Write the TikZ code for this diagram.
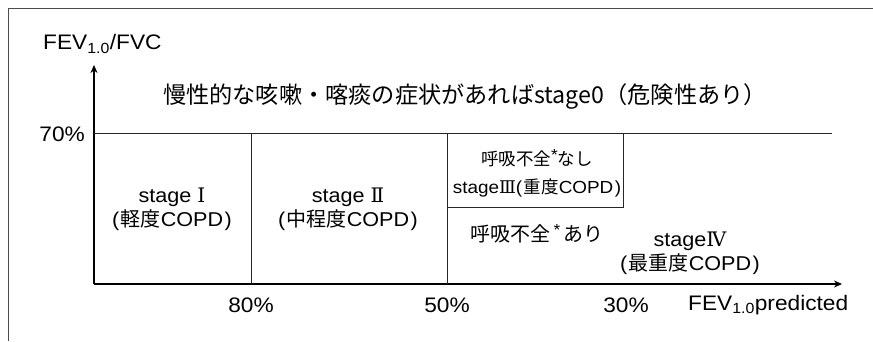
\documentclass[tikz,border=0pt]{standalone}
\usepackage{fontspec}
\setmainfont{Liberation Sans}[FakeStretch=1.08]
\newfontfamily\jp{Noto Sans CJK JP}
\newfontfamily\rom{DejaVu Serif}
\usetikzlibrary{arrows.meta}
\newcommand\starmark{\raisebox{0.28em}{\fontsize{16}{16}\selectfont *}}
\newcommand\lp{(\hspace{1.5pt}}
\newcommand\rp{\hspace{1.5pt})}
\tikzset{
  frameline/.style={draw=black!70, line width=0.9pt},
  axisline/.style={draw=black, line width=1.1pt, -{Stealth[length=8pt,width=7pt]}},
  gridline/.style={draw=black!85, line width=0.9pt},
  lab/.style={inner sep=0pt, font=\fontsize{21}{23}\selectfont},
  stagetxt/.style={inner sep=0pt, align=center, font=\fontsize{20}{24}\selectfont},
  boxtxt/.style={inner sep=0pt, align=center, font=\fontsize{17.5}{28}\selectfont},
  titletxt/.style={inner sep=0pt, font=\fontsize{23.2}{24}\selectfont\jp},
}
\begin{document}
\begin{tikzpicture}[x=1pt,y=-1pt]
\useasboundingbox (0,0) rectangle (873,341);
% frame
\coordinate (ftl) at (8,8);
\coordinate (ftr) at (873,8);
\coordinate (fbl) at (8,341);
\draw[frameline] (ftr) -- (ftl) -- (fbl);
% axes
\coordinate (O) at (94,284);
\coordinate (ytip) at (94,65);
\coordinate (xtip) at (842,284);
\draw[axisline] (O) -- (ytip);
\draw[axisline] (O) -- (xtip);
% grid
\coordinate (h70a) at (94,133);
\coordinate (h70b) at (832,133);
\coordinate (v80t) at (251,133);
\coordinate (v80b) at (251,284);
\coordinate (v50t) at (447,133);
\coordinate (v50b) at (447,284);
\coordinate (boxtr) at (623,133);
\coordinate (boxbr) at (623,207);
\coordinate (boxbl) at (447,207);
\draw[gridline] (h70a) -- (h70b);
\draw[gridline] (v80t) -- (v80b);
\draw[gridline] (v50t) -- (v50b);
\draw[gridline] (boxtr) -- (boxbr) -- (boxbl);
% labels
\node[lab, anchor=west] (ylab) at (43,44) {FEV\textsubscript{1.0}/FVC};
\node[lab, anchor=east] (p70) at (85,134) {70\%};
\node[titletxt] (title) at (465,96) {慢性的な咳嗽・喀痰の症状があればstage0（危険性あり）};
\node[stagetxt] (s1) at (172,209) {stage {\rom Ⅰ}\\\lp{\jp 軽度}COPD\rp};
\node[stagetxt] (s2) at (348,209) {stage {\rom Ⅱ}\\\lp{\jp 中程度}COPD\rp};
\node[boxtxt] (s3) at (537,173) {{\jp 呼吸不全}\starmark{\jp なし}\\stage{\rom Ⅲ}\lp{\jp 重度}COPD\rp};
\node[stagetxt] (r1) at (537,234) {{\jp 呼吸不全}\,\starmark\,{\jp あり}};
\node[stagetxt] (s4) at (690,253) {stage{\rom Ⅳ}\\\lp{\jp 最重度}COPD\rp};
\node[lab] (p80) at (251,305) {80\%};
\node[lab] (p50) at (447,305) {50\%};
\node[lab] (p30) at (626,305) {30\%};
\node[lab, anchor=west] (xlab) at (688,305) {FEV\textsubscript{1.0}predicted};
\end{tikzpicture}
\end{document}
